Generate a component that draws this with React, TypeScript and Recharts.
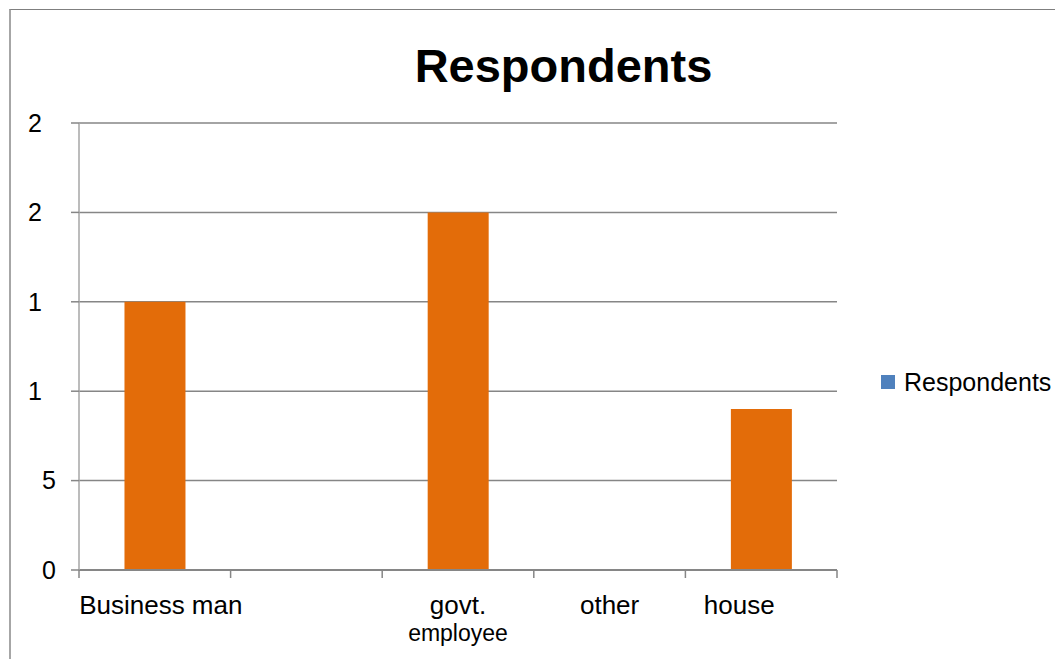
import { BarChart, Bar, XAxis, YAxis, CartesianGrid, Legend } from "recharts";

const CATEGORIAS = ["Business man", "", "govt.\nemployee", "other", "house"];
const RESPONDENTS = [15, 0, 20, 0, 9];
const Y_TICKS = [0, 5, 10, 15, 20, 25];
// labels are clipped in the original: only the first digit shows
const Y_TICK_LABELS = ["0", "5", "1", "1", "2", "2"];
const SERIE = "Respondents";
const TITULO = "Respondents";

const FUENTE = "'Liberation Sans', Arial, sans-serif";
const GRIS = "#868686";
const NARANJA = "#E36C09";
const AZUL = "#4F81BD";

const ANCHO = 1055;
const ALTO = 651;
const PLOT_IZQ = 71;
const PLOT_DER = 829;
const PLOT_ARR = 115;
const PLOT_ABA = 562;
const BANDA = (PLOT_DER - PLOT_IZQ) / CATEGORIAS.length;
const DIGITO = 14;
// small horizontal nudges of the category labels, as in the original
const AJUSTE_ETIQUETA: Record<number, number> = { 0: 6, 4: -22 };

const data = CATEGORIAS.map((name, i) => ({ name, value: RESPONDENTS[i] }));

function TickX(props: any) {
  const { x, payload, index } = props;
  const lineas = String(payload.value).split("\n");
  const izq = x - BANDA / 2;
  const cx = x + (AJUSTE_ETIQUETA[index] ?? 0);
  return (
    <g>
      <line x1={izq} x2={izq} y1={PLOT_ABA} y2={PLOT_ABA + 8} stroke={GRIS} strokeWidth={1.5} />
      {index === CATEGORIAS.length - 1 && (
        <line x1={x + BANDA / 2} x2={x + BANDA / 2} y1={PLOT_ABA} y2={PLOT_ABA + 8} stroke={GRIS} strokeWidth={1.5} />
      )}
      {lineas.map((l, i) => (
        <text
          key={i}
          x={cx}
          y={PLOT_ABA + 44 + i * 27}
          textAnchor="middle"
          fontFamily={FUENTE}
          fontSize={i === 0 ? 26 : 23}
          fill="#000"
        >
          {l}
        </text>
      ))}
    </g>
  );
}

function TickY(props: any) {
  const { x, y, payload } = props;
  const i = Y_TICKS.indexOf(payload.value);
  const label = Y_TICK_LABELS[i];
  const ocultos = String(payload.value).length - label.length;
  return (
    <text
      x={x - ocultos * DIGITO}
      y={y}
      dy="0.355em"
      textAnchor="end"
      fontFamily={FUENTE}
      fontSize={25}
      fill="#000"
    >
      {label}
    </text>
  );
}

function Leyenda() {
  return (
    <div style={{ display: "flex", alignItems: "center", fontFamily: FUENTE, fontSize: 25, lineHeight: "30px", color: "#000", whiteSpace: "nowrap" }}>
      <span style={{ display: "inline-block", width: 14, height: 14, background: AZUL, marginRight: 9 }} />
      {SERIE}
    </div>
  );
}

export default function App() {
  return (
    <div style={{ position: "relative", width: ANCHO, height: ALTO, overflow: "hidden" }}>
      <style>{"html,body{overflow:hidden}"}</style>
      <div
        style={{
          position: "absolute",
          left: 1,
          top: 1,
          width: 2000,
          height: 2000,
          borderTop: "1px solid #7f7f7f",
          borderLeft: "2px solid #a6a6a6",
        }}
      />
      <div
        style={{
          position: "absolute",
          left: 555.5,
          top: 34,
          transform: "translateX(-50%)",
          fontFamily: FUENTE,
          fontWeight: "bold",
          fontSize: 47,
          lineHeight: "47px",
          whiteSpace: "nowrap",
          color: "#000",
        }}
      >
        {TITULO}
      </div>
      <BarChart
        width={ANCHO}
        height={ALTO}
        data={data}
        barCategoryGap="30%"
        margin={{ top: PLOT_ARR, right: ANCHO - PLOT_DER, left: PLOT_IZQ - 60, bottom: ALTO - PLOT_ABA - 60 }}
      >
        <CartesianGrid vertical={false} stroke={GRIS} strokeWidth={1.5} />
        <XAxis
          dataKey="name"
          height={60}
          axisLine={{ stroke: GRIS, strokeWidth: 2 }}
          tickLine={false}
          tick={<TickX />}
          interval={0}
        />
        <YAxis
          width={60}
          domain={[0, 25]}
          ticks={Y_TICKS}
          tickSize={8}
          tickMargin={15}
          axisLine={{ stroke: "#a6a6a6", strokeWidth: 1.5 }}
          tickLine={{ stroke: GRIS, strokeWidth: 1.5 }}
          tick={<TickY />}
        />
        <Legend
          layout="vertical"
          align="center"
          verticalAlign="middle"
          wrapperStyle={{ left: 873, top: 359, width: "auto" }}
          content={() => <Leyenda />}
        />
        <Bar dataKey="value" name={SERIE} fill={NARANJA} isAnimationActive={false} />
      </BarChart>
    </div>
  );
}
